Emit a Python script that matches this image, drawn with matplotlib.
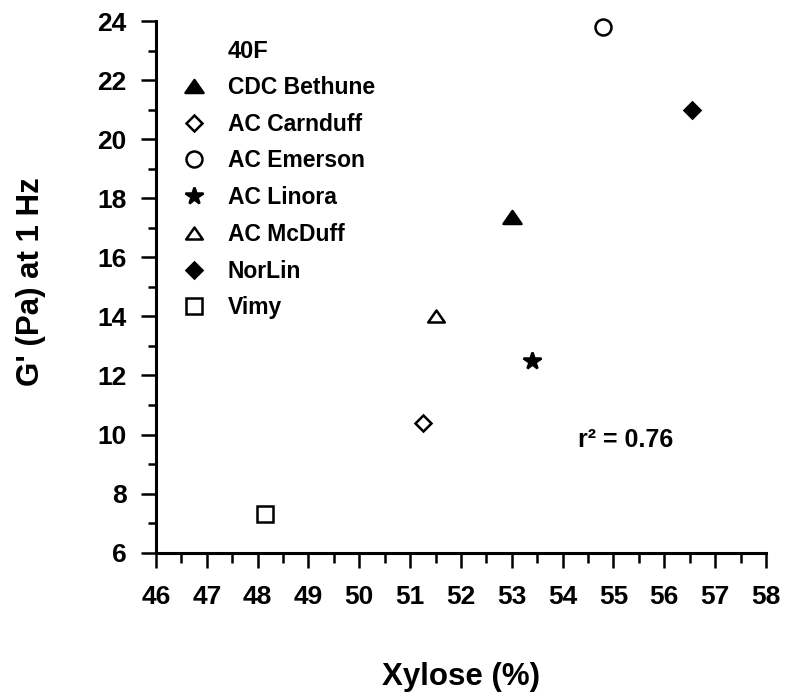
import matplotlib.pyplot as plt
from matplotlib.path import Path
from matplotlib.ticker import MultipleLocator

plt.rcParams['font.family'] = ['Liberation Sans', 'DejaVu Sans']
plt.rcParams['font.weight'] = 'bold'

# cultivar, xylose (%), G' at 1 Hz (Pa)
cultivares = ['CDC Bethune', 'AC Carnduff', 'AC Emerson', 'AC Linora',
              'AC McDuff', 'NorLin', 'Vimy']
xilose = [53.0, 51.25, 54.8, 53.4, 51.5, 56.55, 48.15]
g_linha = [17.35, 10.4, 23.8, 12.5, 14.0, 21.0, 7.3]

# triangulo um pouco achatado, como no grafico original
triangulo = Path([(-1, -0.72), (1, -0.72), (0, 0.72), (-1, -0.72)], closed=True)
marcadores = [triangulo, 'D', 'o', '*', triangulo, 'D', 's']
preenchido = [True, False, False, True, False, True, False]
tamanhos = [13, 8.5, 11.5, 13, 12, 8.5, 11]

fig = plt.figure(figsize=(7.85, 6.94), dpi=100)
ax = fig.add_axes([0.1987, 0.2036, 0.777, 0.7661])

for nome, x, y, m, cheio, s in zip(cultivares, xilose, g_linha,
                                   marcadores, preenchido, tamanhos):
    ax.plot(x, y, linestyle='none', marker=m, markersize=s,
            markerfacecolor='black' if cheio else 'white',
            markeredgecolor='black', markeredgewidth=1.8, label=nome,
            clip_on=False)

ax.set_xlim(46, 58)
ax.set_ylim(6, 24)
ax.xaxis.set_major_locator(MultipleLocator(1))
ax.xaxis.set_minor_locator(MultipleLocator(0.5))
ax.yaxis.set_major_locator(MultipleLocator(2))
ax.yaxis.set_minor_locator(MultipleLocator(1))

for lado in ['top', 'right']:
    ax.spines[lado].set_visible(False)
for lado in ['left', 'bottom']:
    ax.spines[lado].set_linewidth(2.2)

ax.tick_params(axis='both', which='both', direction='out', width=1.8,
               labelsize=19)
ax.tick_params(axis='y', which='major', length=11, pad=10)
ax.tick_params(axis='y', which='minor', length=6)
ax.tick_params(axis='x', which='major', length=11, pad=12)
ax.tick_params(axis='x', which='minor', length=7)

ax.set_xlabel('Xylose (%)', fontsize=22.5, fontweight='bold', va='top')
ax.xaxis.set_label_coords(0.5, -0.206)
ax.set_ylabel("G' (Pa) at 1 Hz", fontsize=22.5, fontweight='bold')
ax.yaxis.set_label_coords(-0.18, 0.51)

leg = ax.legend(loc='upper left', bbox_to_anchor=(0.04, 0.897), frameon=False,
                fontsize=16.5, handletextpad=0.9, labelspacing=0.6,
                handlelength=1.17, borderaxespad=0, borderpad=0)
ax.text(72 / 610, 0.943, '40F', transform=ax.transAxes, fontsize=17,
        fontweight='bold', va='center', ha='left')

ax.text(54.3, 9.8, 'r² = 0.76', fontsize=18, fontweight='bold',
        va='center', ha='left')

fig.savefig('out.png', dpi=100)
